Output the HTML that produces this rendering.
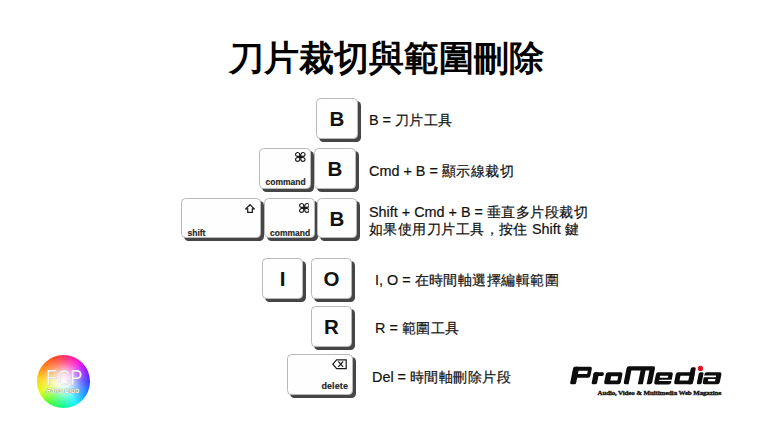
<!DOCTYPE html>
<html lang="zh-Hant">
<head>
<meta charset="utf-8">
<style>
html,body{margin:0;padding:0;}
body{width:770px;height:433px;background:#fff;position:relative;overflow:hidden;font-family:"Liberation Sans",sans-serif;color:#111;}
.t{position:absolute;white-space:nowrap;}
#title{left:1px;width:770px;top:34px;text-align:center;font-size:35px;font-weight:bold;line-height:48px;color:#000;}
.k{position:absolute;box-sizing:border-box;background:#fefefe;border:1px solid #b9b9b9;border-radius:4.5px;box-shadow:3px 3px 0.6px 0 #464646;}
.k .c{position:absolute;left:0;right:0;top:1.5px;bottom:0;display:flex;align-items:center;justify-content:center;font-size:20.5px;font-weight:bold;color:#111;}
.k .lb{position:absolute;font-size:8.5px;font-weight:bold;color:#1e1e1e;-webkit-text-stroke:0.15px #1e1e1e;line-height:10px;}
.k .sv{position:absolute;}
.txt{position:absolute;font-size:14.4px;line-height:18px;color:#111;white-space:nowrap;-webkit-text-stroke:0.2px #111;}
.z{letter-spacing:0.45px;}
</style>
</head>
<body>
<div class="t" id="title">刀片裁切與範圍刪除</div>

<!-- row1 -->
<div class="k" style="left:316px;top:98px;width:42px;height:41px;"><div class="c">B</div></div>
<div class="txt" style="left:369px;top:110.5px;">B = <span class="z">刀片工具</span></div>

<!-- row2 -->
<div class="k" style="left:259px;top:148px;width:52px;height:41px;">
  <svg class="sv" style="left:35px;top:3.2px;" width="10.6" height="9.9" viewBox="0 0 20 20" preserveAspectRatio="none"><path d="M8.85 8.85V4.95A3.9 3.9 0 1 0 4.95 8.85H15.05A3.9 3.9 0 1 0 11.15 4.95V15.05A3.9 3.9 0 1 0 15.05 11.15H4.95A3.9 3.9 0 1 0 8.85 15.05Z" fill="none" stroke="#1a1a1a" stroke-width="2.1"/></svg>
  <div class="lb" style="left:5.5px;top:28.4px;">command</div>
</div>
<div class="k" style="left:314px;top:148px;width:42px;height:41px;"><div class="c">B</div></div>
<div class="txt" style="left:369px;top:161.8px;">Cmd + B = <span class="z">顯示線裁切</span></div>

<!-- row3 -->
<div class="k" style="left:181px;top:198px;width:80px;height:40px;">
  <svg class="sv" style="left:63px;top:4.7px;" width="10" height="9" viewBox="0 0 10 9"><path d="M5 0.7L0.7 4.9H2.7V8.3H7.3V4.9H9.3Z" fill="none" stroke="#1a1a1a" stroke-width="1.2" stroke-linejoin="miter"/></svg>
  <div class="lb" style="left:5.5px;top:29.4px;">shift</div>
</div>
<div class="k" style="left:264px;top:198px;width:51px;height:40px;">
  <svg class="sv" style="left:33.6px;top:3.8px;" width="10.6" height="9.9" viewBox="0 0 20 20" preserveAspectRatio="none"><path d="M8.85 8.85V4.95A3.9 3.9 0 1 0 4.95 8.85H15.05A3.9 3.9 0 1 0 11.15 4.95V15.05A3.9 3.9 0 1 0 15.05 11.15H4.95A3.9 3.9 0 1 0 8.85 15.05Z" fill="none" stroke="#1a1a1a" stroke-width="2.1"/></svg>
  <div class="lb" style="left:5px;top:29px;">command</div>
</div>
<div class="k" style="left:317px;top:198px;width:40px;height:40px;"><div class="c">B</div></div>
<div class="txt" style="left:369px;top:202.5px;">Shift + Cmd + B = <span class="z">垂直多片段裁切</span></div>
<div class="txt" style="left:369px;top:219.8px;"><span class="z">如果使用刀片工具，按住</span> Shift <span class="z">鍵</span></div>

<!-- row4 -->
<div class="k" style="left:262px;top:258px;width:41px;height:41px;"><div class="c">I</div></div>
<div class="k" style="left:311px;top:258px;width:41px;height:41px;"><div class="c">O</div></div>
<div class="txt" style="left:375px;top:271px;">I, O = <span class="z">在時間軸選擇編輯範圍</span></div>

<!-- row5 -->
<div class="k" style="left:311px;top:306px;width:41px;height:41px;"><div class="c">R</div></div>
<div class="txt" style="left:375px;top:319px;">R = <span class="z">範圍工具</span></div>

<!-- row6 -->
<div class="k" style="left:287px;top:354px;width:66px;height:41px;">
  <svg class="sv" style="left:44.2px;top:4px;" width="15" height="10.5" viewBox="0 0 15 10.5"><path d="M0.9 5.2L4.6 0.9H14.2V9.6H4.6Z" fill="none" stroke="#1a1a1a" stroke-width="1.2"/><path d="M6.3 2.3L11.1 7.9M11.1 2.3L6.3 7.9" fill="none" stroke="#1a1a1a" stroke-width="1.2"/></svg>
  <div class="lb" style="right:4px;top:25.8px;font-size:9px;letter-spacing:0.1px;">delete</div>
</div>
<div class="txt" style="left:372px;top:368px;">Del = <span class="z">時間軸刪除片段</span></div>

<!-- FCP logo -->
<div style="position:absolute;left:36.5px;top:355px;width:53px;height:53px;border-radius:50%;background:conic-gradient(from -20deg,#ff3a1a,#ff1a6a 25deg,#ff00d0 55deg,#a000ff 80deg,#2a2aff 110deg,#0a8aff 140deg,#00f0ff 170deg,#00ff80 205deg,#40ff20 235deg,#d8ff00 265deg,#ffd000 295deg,#ff7a00 325deg,#ff3a1a 360deg);"></div>
<div style="position:absolute;left:36.5px;top:355px;width:53px;height:53px;border-radius:50%;background:radial-gradient(circle at 50% 50%,rgba(255,255,255,1) 0%,rgba(255,255,255,0.85) 20%,rgba(255,255,255,0.3) 50%,rgba(255,255,255,0) 74%);"></div>
<div class="t" style="left:43px;top:365.5px;width:40px;text-align:center;font-size:21.4px;transform:scaleX(0.84);color:#fff;-webkit-text-stroke:0.5px rgba(150,150,150,0.5);line-height:24px;">FCP</div>
<div class="t" style="left:44px;top:387.4px;width:38px;text-align:center;font-size:6.8px;font-weight:bold;font-style:italic;color:#fff;text-shadow:0 0 0.8px rgba(0,0,0,0.75);line-height:8px;">Fans Club</div>

<!-- ProMedia -->
<svg style="position:absolute;left:0;top:0;" width="770" height="433" viewBox="0 0 770 433">
<g transform="translate(0 384.3) skewX(-11.3) translate(0 -384.3)" fill="#0d0d0d">
<!-- P -->
<rect x="570.2" y="366.7" width="18.5" height="11" rx="2"/>
<rect x="569.9" y="366.7" width="6" height="17.6" rx="1.5"/>
<rect x="575.9" y="370.8" width="9.2" height="3.3" fill="#fff"/>
<!-- r -->
<rect x="591.4" y="372.3" width="5.4" height="12" rx="1.5"/>
<rect x="591.4" y="372.3" width="10.4" height="3.7" rx="1.5"/>
<!-- o -->
<rect x="603.8" y="372.3" width="16.6" height="12" rx="2"/>
<rect x="609.6" y="376.2" width="7" height="4.4" fill="#fff"/>
<!-- M -->
<rect x="623.4" y="366.3" width="28.4" height="18" rx="2"/>
<rect x="628.6" y="370.4" width="9.2" height="15" fill="#fff"/>
<rect x="642.8" y="370.4" width="3.8" height="15" fill="#fff"/>
<!-- e -->
<rect x="653.9" y="372.3" width="16.9" height="12.2" rx="2"/>
<rect x="658.4" y="375.8" width="8.2" height="1.9" fill="#fff"/>
<rect x="658.4" y="379.8" width="13" height="1.2" fill="#fff"/>
<!-- d -->
<rect x="673.8" y="372.2" width="18.8" height="12.1" rx="2"/>
<rect x="687.6" y="367.3" width="5" height="17" rx="1.5"/>
<rect x="678.8" y="375.8" width="8.8" height="4.8" fill="#fff"/>
<!-- i -->
<rect x="696.6" y="372.2" width="4.8" height="12.1" rx="1.5"/>
<!-- a -->
<rect x="702.4" y="372.2" width="17" height="12.1" rx="2"/>
<rect x="701.8" y="375.6" width="12.6" height="1.6" fill="#fff"/>
<rect x="707.2" y="379" width="7.2" height="2.2" fill="#fff"/>
</g>
<circle cx="700.4" cy="368.4" r="2.6" fill="#e8101a"/>
</svg>
<div class="t" style="left:597.5px;top:388.5px;font-size:7px;letter-spacing:-0.15px;font-weight:bold;font-family:'Liberation Serif',serif;color:#111;-webkit-text-stroke:0.35px #111;line-height:8px;">Audio, Video &amp; Multimedia Web Magazine</div>
</body>
</html>
